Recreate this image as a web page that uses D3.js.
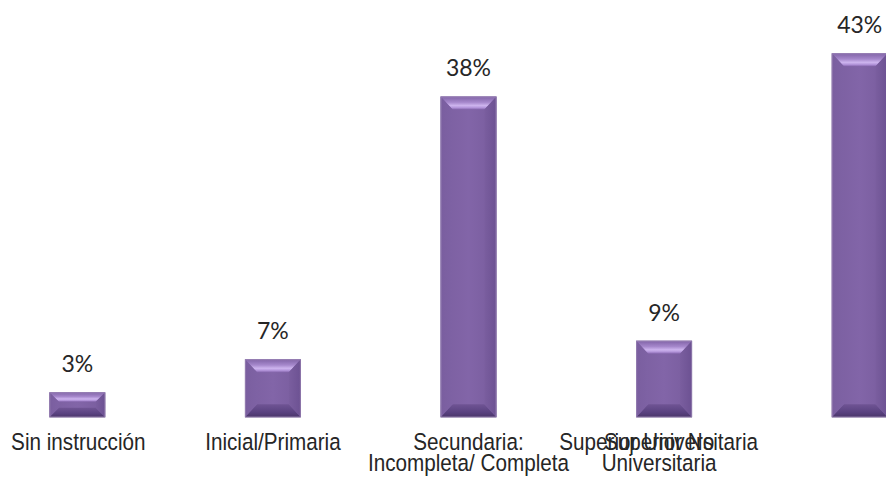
<!DOCTYPE html>
<html>
<head>
<meta charset="utf-8">
<script src="https://cdn.jsdelivr.net/npm/d3@7"></script>
<style>
  html, body { margin: 0; padding: 0; background: #ffffff; }
  svg { display: block; }
</style>
</head>
<body>
<svg id="chart" width="886" height="481"></svg>
<script>
// ---- data ----
const categories = ["Sin instrucción", "Inicial/Primaria", "Secundaria: Incompleta/ Completa", "Superior No Universitaria", "Superior Universitaria"];
const categoryLines = [["Sin instrucción"], ["Inicial/Primaria"], ["Secundaria:", "Incompleta/ Completa"], ["Superior No", "Universitaria"], ["Superior Universitaria"]];
const values = [0.0295, 0.0686, 0.379, 0.0905, 0.430];
const valueLabels = ["3%", "7%", "38%", "9%", "43%"];

// ---- layout ----
const W = 886, H = 481;
const baseY = 417.3, topY = 53.3;
const svg = d3.select("#chart");

const x = d3.scaleBand()
  .domain(categories)
  .range([-20.5, 957.5])
  .paddingInner(0.714)
  .paddingOuter(0.357);

const y = d3.scaleLinear()
  .domain([0, d3.max(values)])
  .range([baseY, topY]);

const defs = svg.append("defs");
function grad(id, x1, y1, x2, y2, stops) {
  const g = defs.append("linearGradient").attr("id", id)
    .attr("x1", x1).attr("y1", y1).attr("x2", x2).attr("y2", y2);
  stops.forEach(s => g.append("stop").attr("offset", s[0]).attr("stop-color", s[1]));
}
grad("gTop", 0, 0, 0, 1, [[0, "#7f62a5"], [0.45, "#a688cc"], [0.7, "#cdb4ee"], [0.85, "#b597dc"], [1, "#8868b0"]]);
grad("gBot", 0, 0, 0, 1, [[0, "#6f5494"], [0.6, "#5a4280"], [1, "#4a3569"]]);
grad("gLeft", 0, 0, 1, 0, [[0, "#7a5e9f"], [1, "#7e62a4"]]);
grad("gRight", 0, 0, 1, 0, [[0, "#7a5e9f"], [1, "#6c5192"]]);
grad("gFace", 0, 0, 1, 0, [[0, "#7b5fa0"], [0.5, "#8265a8"], [1, "#785c9d"]]);

const bars = svg.append("g").selectAll("g.bar")
  .data(categories.map((c, i) => ({ c, v: values[i], i })))
  .join("g").attr("class", "bar");

bars.each(function(d) {
  const g = d3.select(this);
  const x0 = x(d.c), x1 = x0 + x.bandwidth();
  const y0 = y(d.v), y1 = y(0);
  const h = y1 - y0;
  const bv = Math.min(13, h * 0.38);
  const bs = Math.min(12, h * 0.38);
  g.append("rect").attr("x", x0).attr("y", y0).attr("width", x1 - x0).attr("height", h)
    .attr("fill", "url(#gFace)");
  const poly = pts => pts.map(p => p.join(",")).join(" ");
  g.append("polygon").attr("points", poly([[x0, y0], [x1, y0], [x1 - bs, y0 + bv], [x0 + bs, y0 + bv]]))
    .attr("fill", "url(#gTop)");
  g.append("polygon").attr("points", poly([[x0, y1], [x1, y1], [x1 - bs, y1 - bv], [x0 + bs, y1 - bv]]))
    .attr("fill", "url(#gBot)");
  g.append("polygon").attr("points", poly([[x0, y0], [x0 + bs, y0 + bv], [x0 + bs, y1 - bv], [x0, y1]]))
    .attr("fill", "url(#gLeft)");
  g.append("polygon").attr("points", poly([[x1, y0], [x1 - bs, y0 + bv], [x1 - bs, y1 - bv], [x1, y1]]))
    .attr("fill", "url(#gRight)");
  g.append("rect").attr("x", x0 + 0.5).attr("y", y0 + 0.5).attr("width", x1 - x0 - 1).attr("height", h - 1)
    .attr("fill", "none").attr("stroke", "#a795be").attr("stroke-opacity", 0.55).attr("stroke-width", 1);
});

// value labels
svg.append("g").selectAll("text")
  .data(categories.map((c, i) => ({ c, v: values[i], t: valueLabels[i] })))
  .join("text")
  .attr("x", d => x(d.c) + x.bandwidth() / 2)
  .attr("y", d => y(d.v) - 20)
  .attr("text-anchor", "middle")
  .attr("font-family", "Lato, 'Open Sans', sans-serif")
  .attr("font-size", 23)
  .attr("fill", "#262626")
  .text(d => d.t);

// category labels
const labelShift = [1, 0, 0, -5, -201];
const catG = svg.append("g");
categories.forEach((c, i) => {
  const cx = x(c) + x.bandwidth() / 2 + labelShift[i];
  categoryLines[i].forEach((line, j) => {
    catG.append("text")
      .attr("transform", `translate(${cx},${450 + j * 20.5}) scale(0.88,1)`)
      .attr("text-anchor", "middle")
      .attr("font-family", "'Liberation Sans', Arial, sans-serif")
      .attr("font-size", 23.5)
      .attr("fill", "#262626")
      .text(line);
  });
});
</script>
</body>
</html>
